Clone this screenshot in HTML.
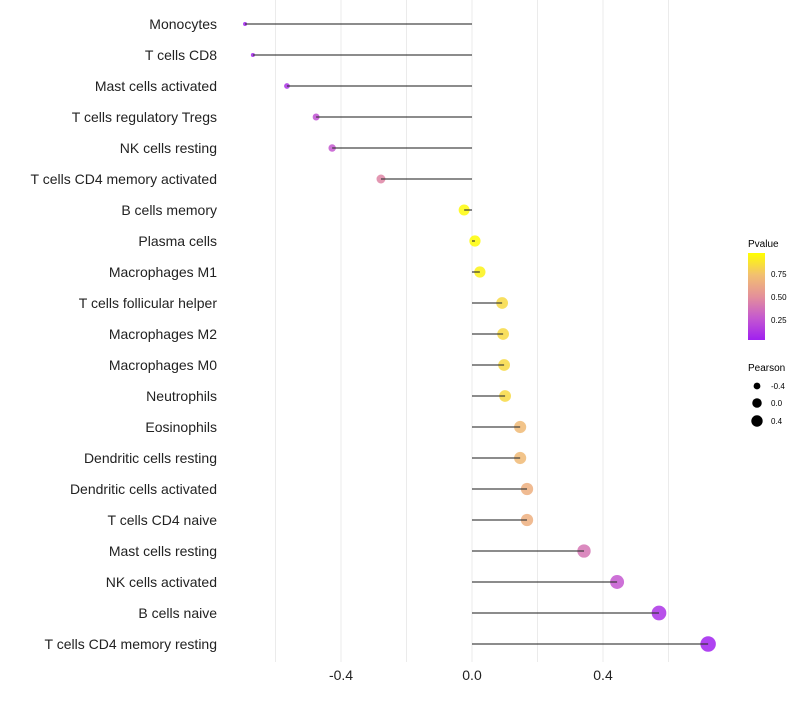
<!DOCTYPE html>
<html><head><meta charset="utf-8"><style>
body{margin:0;background:#fff;font-family:"Liberation Sans",sans-serif}
</style></head><body>
<svg id="c" width="800" height="700" xmlns="http://www.w3.org/2000/svg">
<defs><linearGradient id="pg" x1="0" y1="1" x2="0" y2="0">
<stop offset="0" stop-color="#a020f0"/><stop offset="0.25" stop-color="#c458d0"/><stop offset="0.5" stop-color="#e4909a"/><stop offset="0.75" stop-color="#f2c070"/><stop offset="1" stop-color="#ffff00"/></linearGradient></defs>
<g id="grid"></g><g id="marks"></g><g id="labels"></g>
<g>
<text x="748" y="247" font-size="10">Pvalue</text>
<rect x="748" y="253" width="17" height="87" fill="url(#pg)"/>
<text x="771" y="277" font-size="8">0.75</text>
<text x="771" y="300" font-size="8">0.50</text>
<text x="771" y="323" font-size="8">0.25</text>
</g>
<g>
<text x="748" y="371" font-size="10">Pearson</text>
<circle cx="757" cy="386" r="3.4"/><text x="771" y="389" font-size="8">-0.4</text>
<circle cx="757" cy="403" r="4.75"/><text x="771" y="406" font-size="8">0.0</text>
<circle cx="757" cy="421" r="5.7"/><text x="771" y="424" font-size="8">0.4</text>
</g>
</svg>
<script>
const categories=["Monocytes","T cells CD8","Mast cells activated","T cells regulatory  Tregs ","NK cells resting","T cells CD4 memory activated","B cells memory","Plasma cells","Macrophages M1","T cells follicular helper","Macrophages M2","Macrophages M0","Neutrophils","Eosinophils","Dendritic cells resting","Dendritic cells activated","T cells CD4 naive","Mast cells resting","NK cells activated","B cells naive","T cells CD4 memory resting"];
const pearson=[-0.693,-0.669,-0.565,-0.476,-0.427,-0.278,-0.024,0.009,0.024,0.092,0.095,0.098,0.101,0.147,0.147,0.168,0.168,0.342,0.443,0.571,0.721];
const pvalue=[0.01,0.03,0.08,0.22,0.25,0.45,0.98,0.99,0.95,0.85,0.85,0.85,0.85,0.72,0.72,0.66,0.66,0.38,0.25,0.08,0.01];
const xticks=[-0.4,0,0.4];
const xtickLabels=["-0.4","0.0","0.4"];
const gridVals=[-0.6,-0.4,-0.2,0,0.2,0.4,0.6];
const ns="http://www.w3.org/2000/svg";
const X=v=>472+v*327.5, Y=i=>24+i*31;
function mk(t,a,p){const e=document.createElementNS(ns,t);for(const k in a)e.setAttribute(k,a[k]);p.appendChild(e);return e;}
function hex(h){return [1,3,5].map(i=>parseInt(h.substr(i,2),16));}
const stops=[[0,"#a020f0"],[0.25,"#c458d0"],[0.5,"#e4909a"],[0.75,"#f2c070"],[1,"#ffff00"]];
function col(p){for(let k=0;k<stops.length-1;k++){const [a,ca]=stops[k],[b,cb]=stops[k+1];if(p<=b){const t=(p-a)/(b-a);const A=hex(ca),B=hex(cb);return `rgb(${A.map((x,i)=>Math.round(x+(B[i]-x)*t))})`;}}return "#ffff00";}
const g=document.getElementById('grid'),m=document.getElementById('marks'),L=document.getElementById('labels');
gridVals.forEach(v=>{const l=mk('line',{x1:X(v),x2:X(v),y1:0,y2:662,stroke:'#ebebeb','stroke-width':1},g);

});
xticks.forEach((v,i)=>{const t=mk('text',{x:X(v),y:680,'font-size':14,'text-anchor':'middle',fill:'#222'},L);t.textContent=xtickLabels[i];

});
categories.forEach((c,i)=>{
const t=mk('text',{x:217,y:Y(i)+5,'font-size':14,'text-anchor':'end',fill:'#222'},L);t.textContent=c;


const v=pearson[i];
const r=Math.sqrt(Math.max(4,31+40*v));
const d=mk('circle',{cx:X(v),cy:Y(i),r:r,fill:col(pvalue[i]),'fill-opacity':0.85},m);


const ln=mk('line',{x1:X(0),x2:X(v),y1:Y(i),y2:Y(i),stroke:'#333','stroke-width':1.3,'stroke-opacity':0.9},m);


});
</script>
</body></html>
